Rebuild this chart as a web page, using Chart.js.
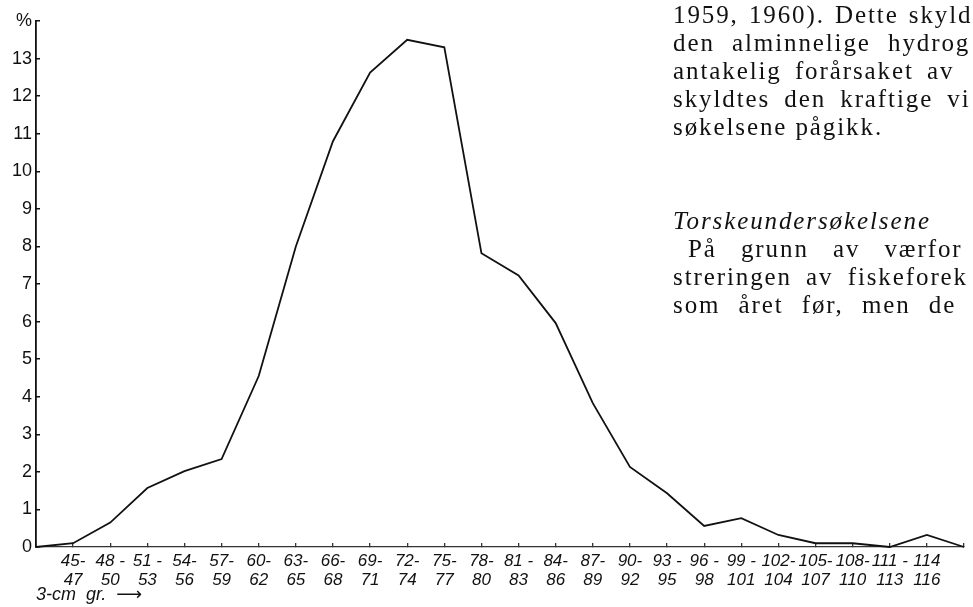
<!DOCTYPE html>
<html>
<head>
<meta charset="utf-8">
<script src="https://cdn.jsdelivr.net/npm/chart.js@4.4.1/dist/chart.umd.min.js"></script>
<style>
  html, body { margin: 0; padding: 0; background: #fff; overflow: hidden; }
  #wrap { position: relative; width: 973px; height: 607px; }
  #lengthChart { position: absolute; left: 0; top: 0; }
  .page-text {
    position: absolute; left: 673px; width: 300px; overflow: hidden;
    white-space: nowrap; font-family: "Liberation Serif", "DejaVu Serif", serif;
    font-size: 25px; letter-spacing: 1.9px; line-height: 28px; color: #111;
  }
  .page-text div { height: 28px; }
  .page-text .head { font-style: italic; }
  .page-text .indent { padding-left: 15px; }
</style>
</head>
<body>
<div id="wrap">
  <canvas id="lengthChart" width="973" height="607"></canvas>
  <div class="page-text" style="top:1px">
    <div style="word-spacing:2px">1959, 1960). Dette skyld</div>
    <div style="word-spacing:9px">den alminnelige hydrog</div>
    <div style="word-spacing:5px">antakelig forårsaket av</div>
    <div style="word-spacing:6px">skyldtes den kraftige vi</div>
    <div>søkelsene pågikk.</div>
  </div>
  <div class="page-text" style="top:207px">
    <div class="head">Torskeundersøkelsene</div>
    <div class="indent" style="word-spacing:16px">På grunn av værfor</div>
    <div style="word-spacing:6px">streringen av fiskeforek</div>
    <div style="word-spacing:10px">som året før, men de</div>
  </div>
</div>
<script>
// 3-cm length groups (first and last group are unlabeled end points on the axis)
var sizeGroups = ['42-44', '45-47', '48-50', '51-53', '54-56', '57-59', '60-62', '63-65', '66-68',
    '69-71', '72-74', '75-77', '78-80', '81-83', '84-86', '87-89', '90-92', '93-95', '96-98',
    '99-101', '102-104', '105-107', '108-110', '111-113', '114-116', '117-119'];

// percent of catch in each group
var percentValues = [0, 0.1, 0.65, 1.57, 2.02, 2.34, 4.55, 8.0, 10.8, 12.63, 13.5, 13.3, 7.82,
    7.23, 5.96, 3.83, 2.13, 1.43, 0.56, 0.77, 0.32, 0.1, 0.1, 0, 0.32, 0];

// two-line tick labels under the x axis
var tickTop = ['', '45-', '48 -', '51 -', '54-', '57-', '60-', '63-', '66-', '69-', '72-', '75-', '78-',
    '81 -', '84-', '87-', '90-', '93 -', '96 -', '99 -', '102-', '105-', '108-', '111 -', '114', ''];
var tickBottom = ['', '47', '50', '53', '56', '59', '62', '65', '68', '71', '74', '77', '80',
    '83', '86', '89', '92', '95', '98', '101', '104', '107', '110', '113', '116', ''];

// y ticks 0..14, top one shows the unit sign
var yMax = 14;
var yUnit = '%';

var sansFont = '"Liberation Sans", "DejaVu Sans", sans-serif';

var ctx = document.getElementById('lengthChart').getContext('2d');
var lengthChart = new Chart(ctx, {
    type: 'line',
    data: {
        labels: sizeGroups,
        datasets: [{
            data: percentValues,
            borderColor: '#111',
            borderWidth: 1.8,
            pointRadius: 0,
            tension: 0,
            fill: false,
            clip: false
        }]
    },
    options: {
        responsive: false,
        animation: false,
        events: [],
        layout: { padding: { top: 21, right: 0, left: 0, bottom: 0 } },
        plugins: { legend: { display: false }, tooltip: { enabled: false } },
        scales: {
            x: {
                type: 'category',
                offset: false,
                afterFit: function (s) { s.height = 60; },
                border: { color: '#333', width: 1.3 },
                grid: { drawOnChartArea: false, tickLength: -4, color: '#333', lineWidth: 1.3 },
                ticks: {
                    autoSkip: false,
                    maxRotation: 0,
                    padding: 9,
                    color: '#111',
                    font: { family: sansFont, size: 17, style: 'italic', lineHeight: 1.1 },
                    callback: function (v, i) { return [tickTop[i], tickBottom[i]]; }
                },
                title: {
                    display: true,
                    align: 'start',
                    text: '3-cm  gr.  \u27f6',
                    color: '#111',
                    padding: { top: 0, bottom: 1 },
                    font: { family: sansFont, size: 18, style: 'italic' }
                }
            },
            y: {
                min: 0,
                max: yMax,
                afterFit: function (s) { s.width = 36; },
                border: { color: '#111', width: 1.8 },
                grid: { drawOnChartArea: false, tickLength: -4, color: '#111', lineWidth: 1.5 },
                ticks: {
                    stepSize: 1,
                    padding: 8,
                    color: '#111',
                    font: { family: sansFont, size: 18 },
                    callback: function (v) { return v === yMax ? yUnit : v; }
                }
            }
        }
    }
});
</script>
</body>
</html>
